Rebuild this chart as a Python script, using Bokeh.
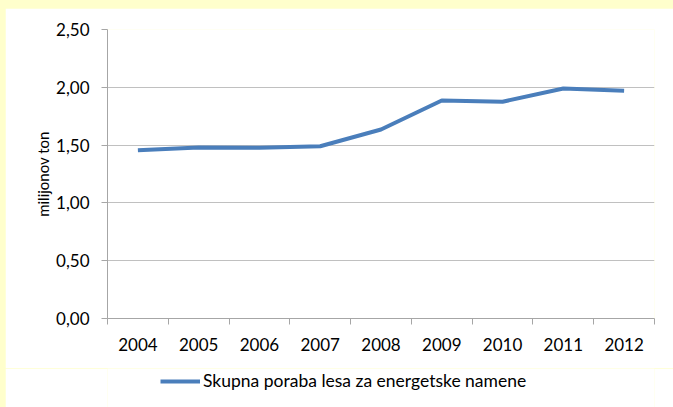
from bokeh.plotting import figure
from bokeh.layouts import column
from bokeh.models import (Range1d, FixedTicker, CustomJSTickFormatter, Legend, LegendItem)
from bokeh.embed import file_html
from bokeh.resources import INLINE

years = [2004, 2005, 2006, 2007, 2008, 2009, 2010, 2011, 2012]
poraba = [1.455, 1.48, 1.477, 1.49, 1.635, 1.886, 1.875, 1.99, 1.97]
y_ticks = [0.0, 0.5, 1.0, 1.5, 2.0, 2.5]
series_label = "Skupna poraba lesa za energetske namene"
y_label = "milijonov ton"

FONT = "Lato"
GRAY = "#A6A6A6"
LINE_COLOR = "#4A7EBB"

p = figure(width=668, height=360, output_backend="svg", toolbar_location=None,
           x_range=Range1d(years[0] - 0.5, years[-1] + 0.5),
           y_range=Range1d(y_ticks[0], y_ticks[-1]),
           min_border_left=102, min_border_right=19, min_border_top=21, min_border_bottom=50)
p.background_fill_color = "white"
p.border_fill_color = "white"
p.outline_line_color = None

r = p.line(years, poraba, line_color=LINE_COLOR, line_width=4)

# x axis
p.xaxis.ticker = FixedTicker(ticks=years, minor_ticks=[y - 0.5 for y in years] + [years[-1] + 0.5])
p.xaxis.formatter = CustomJSTickFormatter(code="return String(tick)")
p.xaxis.major_tick_out = 0
p.xaxis.major_tick_in = 0
p.xaxis.minor_tick_out = 6
p.xaxis.minor_tick_in = 0
p.xaxis.minor_tick_line_color = GRAY
p.xaxis.axis_line_color = GRAY
p.xaxis.major_label_standoff = 13
p.xaxis.major_label_text_font = FONT
p.xaxis.major_label_text_font_size = "17px"
p.xaxis.major_label_text_color = "black"
p.xgrid.grid_line_color = None

# y axis
p.yaxis.ticker = FixedTicker(ticks=y_ticks, minor_ticks=[])
p.yaxis.formatter = CustomJSTickFormatter(code="return tick.toFixed(2).replace('.', ',')")
p.yaxis.major_tick_out = 6
p.yaxis.major_tick_in = 0
p.yaxis.major_tick_line_color = GRAY
p.yaxis.minor_tick_line_color = None
p.yaxis.axis_line_color = GRAY
p.yaxis.major_label_standoff = 12
p.yaxis.major_label_text_font = FONT
p.yaxis.major_label_text_font_size = "17px"
p.yaxis.major_label_text_color = "black"
p.yaxis.axis_label = y_label
p.yaxis.axis_label_text_font = FONT
p.yaxis.axis_label_text_font_size = "15px"
p.yaxis.axis_label_text_font_style = "normal"
p.yaxis.axis_label_text_color = "black"
p.yaxis.axis_label_standoff = 1
p.ygrid.grid_line_color = "#C0C0C0"
p.ygrid.grid_line_width = 1

# legend strip below the chart (same series, drawn outside this strip's ranges)
lf = figure(width=668, height=39, output_backend="svg", toolbar_location=None,
            x_range=Range1d(0, 1), y_range=Range1d(0, 1),
            x_axis_location=None, y_axis_location=None,
            min_border_left=0, min_border_right=0, min_border_top=0, min_border_bottom=0)
lf.background_fill_color = "white"
lf.border_fill_color = "white"
lf.outline_line_color = None
lf.grid.grid_line_color = None
lr = lf.line(years, poraba, line_color=LINE_COLOR, line_width=4)

legend = Legend(items=[LegendItem(label=series_label, renderers=[lr])],
                location=(53, 16), orientation="horizontal",
                padding=0, margin=0, spacing=0,
                glyph_width=40, glyph_height=20, label_height=20,
                label_standoff=3,
                label_text_font=FONT, label_text_font_size="17.5px",
                label_text_color="black",
                border_line_color=None, background_fill_alpha=0)
lf.add_layout(legend, "center")

layout = column(p, lf, spacing=0)

html = file_html(layout, INLINE)
css = "<style>html, body { background-color: #FFFFCC !important; } body { padding: 8px 0 0 5px !important; }</style>"
html = html.replace("</head>", css + "</head>", 1)
open("out.html", "w").write(html)
